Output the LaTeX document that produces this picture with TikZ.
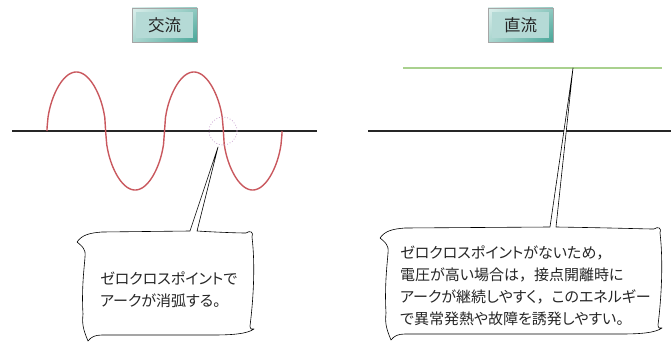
\documentclass[tikz,border=0pt]{standalone}
\usepackage{fontspec}
\usetikzlibrary{shadings}
\newfontfamily\jp[RawFeature=+palt]{Noto Sans CJK JP}
\newfontfamily\jplbl{Noto Sans CJK JP}
\newcommand\fwc{{\jplbl ，}}
\definecolor{tealdark}{HTML}{46A597}
\definecolor{teallight}{HTML}{DCEFEC}
\definecolor{tealin}{HTML}{B5DAD6}
\definecolor{wavered}{HTML}{C9585E}
\definecolor{dcgreen}{HTML}{A9D18E}
\definecolor{circpurple}{HTML}{C9A3CF}
\definecolor{txt}{HTML}{262626}
\newcommand\mypillow[7]{%
 (#1,#2+10) .. controls (#1+5,#2+3) and (#1+12,#2+1) .. (#1+25,#2)
 -- (#5,#2-1) -- (#7) -- (#6,#2-1)
 .. controls (#3-40,#2) and (#3-15,#2+1) .. (#3-6,#2+1)
 .. controls (#3-2,#2-2) and (#3+2,#2) .. (#3,#2+5)
 .. controls (#3+3,#2+30) and (#3+2,#4-40) .. (#3-2,#4-8)
 .. controls (#3-2,#4-5) and (#3,#4-4) .. (#3+2,#4-5)
 .. controls (#3-5,#4) and (#3-20,#4+1) .. (#3-40,#4+1)
 -- (#1+25,#4+1)
 .. controls (#1+18,#4+1) and (#1+14,#4+3) .. (#1+11,#4+7)
 .. controls (#1+6,#4-5) and (#1+5,#4-10) .. (#1+6,#4-20)
 .. controls (#1+4,#2+50) and (#1+9,#2+25) .. (#1+8,#2+20)
 .. controls (#1+6,#2+15) .. cycle}
\tikzset{
 lbl/.style={minimum width=65pt, minimum height=34pt, inner sep=0pt,
   draw=gray!70, line width=0.4pt,
   upper left=teallight, upper right=tealdark!60, lower left=tealdark!45, lower right=tealdark,
   path picture={\fill[tealin] ([shift={(4pt,-4pt)}]path picture bounding box.north west)
     rectangle ([shift={(-4pt,4pt)}]path picture bounding box.south east);}},
 lbltext/.style={font=\jplbl\fontsize{16.5}{18}\selectfont, text=txt},
 axis/.style={draw=black!85, line width=1.3pt},
 wave/.style={draw=wavered, line width=1.4pt},
 dcline/.style={draw=dcgreen, line width=1.5pt},
 zerocirc/.style={draw=circpurple, dotted, line width=0.8pt},
 callout/.style={draw=black, fill=white, line width=0.6pt, line join=round},
 calltext/.style={font=\jp\fontsize{15}{22}\selectfont, text=txt, align=left, inner sep=0pt},
}
\begin{document}
\begin{tikzpicture}[x=1pt,y=-1pt]
\useasboundingbox (0,0) rectangle (671,342);
% labels
\node[lbl] (acbox) at (164.5,25) {};
\node[lbltext] (actext) at (acbox.center) {交流};
\node[lbl] (dcbox) at (520.5,25) {};
\node[lbltext] (dctext) at (dcbox.center) {直流};
% AC
\draw[axis] (12,131) coordinate (acL) -- (317,131) coordinate (acR);
\draw[wave] (47,131) -- plot[domain=0.2:719.8, samples=241]
  ({47+\x/180*58.75}, {131-59*sign(sin(\x))*sqrt(abs(sin(\x)))}) -- (282,131);
\node[zerocirc, circle, minimum size=28pt, inner sep=0pt] (zc) at (223,131) {};
% DC
\draw[axis] (368,131) -- (671,131);
\draw[dcline] (403,68) -- (662,68);
\coordinate (tipL) at (218,147);
\coordinate (tipR) at (573,68);
% callouts
\draw[callout] \mypillow{77}{232}{252}{334}{190}{197}{tipL};
\draw[callout] \mypillow{380}{228}{660}{333}{550}{556}{tipR};
\node[calltext, anchor=west] (txtL) at (100,290) {ゼロクロスポイントで\\アークが消弧する。};
\node[calltext, anchor=west] (txtR) at (400,286) {ゼロクロスポイントがないため\fwc\\電圧が高い場合は\fwc 接点開離時に\\アークが継続しやすく\fwc このエネルギー\\で異常発熱や故障を誘発しやすい。};
\end{tikzpicture}
\end{document}
